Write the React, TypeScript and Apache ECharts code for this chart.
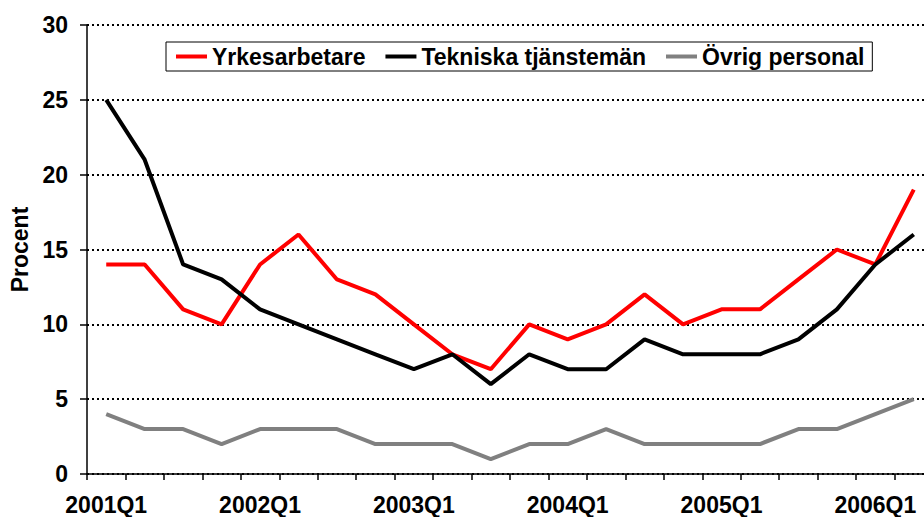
import React, { useEffect, useRef } from "react";
import * as echarts from "echarts";

const categories = [
  "2001Q1", "2001Q2", "2001Q3", "2001Q4",
  "2002Q1", "2002Q2", "2002Q3", "2002Q4",
  "2003Q1", "2003Q2", "2003Q3", "2003Q4",
  "2004Q1", "2004Q2", "2004Q3", "2004Q4",
  "2005Q1", "2005Q2", "2005Q3", "2005Q4",
  "2006Q1", "2006Q2",
];
const yrkesarbetare = [14, 14, 11, 10, 14, 16, 13, 12, 10, 8, 7, 10, 9, 10, 12, 10, 11, 11, 13, 15, 14, 19];
const tekniska = [25, 21, 14, 13, 11, 10, 9, 8, 7, 8, 6, 8, 7, 7, 9, 8, 8, 8, 9, 11, 14, 16];
const ovrig = [4, 3, 3, 2, 3, 3, 3, 2, 2, 2, 1, 2, 2, 3, 2, 2, 2, 2, 3, 3, 4, 5];
const seriesNames = ["Yrkesarbetare", "Tekniska tjänstemän", "Övrig personal"];
const yAxisName = "Procent";

const FONT = "'Liberation Sans', Arial, sans-serif";

export default function App() {
  const ref = useRef<HTMLDivElement>(null);
  useEffect(() => {
    if (!ref.current) return;
    const chart = echarts.init(ref.current, undefined, { renderer: "svg" });
    const mk = (name: string, data: number[], color: string) => ({
      name,
      type: "line",
      data,
      symbol: "none",
      lineStyle: { color, width: 4 },
      itemStyle: { color },
    });
    chart.setOption({
      animation: false,
      textStyle: { fontFamily: FONT },
      grid: { left: 87, right: 0, top: 25, bottom: 43 },
      legend: {
        left: 166,
        top: 42,
        padding: [3, 8, 3, 10],
        borderColor: "#000",
        borderWidth: 1,
        icon: "rect",
        itemWidth: 31,
        itemHeight: 4,
        itemGap: 20,
        textStyle: { fontFamily: FONT, fontSize: 23, fontWeight: "bold", color: "#000" },
        data: seriesNames,
      },
      xAxis: {
        type: "category",
        data: categories,
        boundaryGap: true,
        axisLine: { lineStyle: { color: "#000", width: 1.5 } },
        axisTick: { show: true, interval: 0, length: 6, lineStyle: { color: "#000", width: 1.5 } },
        axisLabel: {
          interval: 3,
          margin: 19,
          fontFamily: FONT,
          fontSize: 23,
          fontWeight: "bold",
          color: "#000",
        },
        splitLine: { show: false },
      },
      yAxis: {
        type: "value",
        min: 0,
        max: 30,
        interval: 5,
        name: yAxisName,
        nameLocation: "middle",
        nameGap: 56,
        nameRotate: 90,
        nameTextStyle: { fontFamily: FONT, fontSize: 23, fontWeight: "bold", color: "#000" },
        axisLine: { show: true, lineStyle: { color: "#000", width: 1.5 } },
        axisTick: { show: true, length: 7, lineStyle: { color: "#000", width: 1.5 } },
        axisLabel: {
          margin: 19,
          fontFamily: FONT,
          fontSize: 23,
          fontWeight: "bold",
          color: "#000",
        },
        splitLine: { show: true, lineStyle: { color: "#000", width: 2, type: [2, 3] } },
      },
      series: [
        mk(seriesNames[0], yrkesarbetare, "#ff0000"),
        mk(seriesNames[1], tekniska, "#000000"),
        mk(seriesNames[2], ovrig, "#808080"),
      ],
    });
    return () => chart.dispose();
  }, []);
  return (
    <div style={{ position: "fixed", left: 0, top: 0, width: 924, height: 517, overflow: "hidden", background: "#fff" }}>
      <div ref={ref} style={{ width: 933, height: 517 }} />
    </div>
  );
}
